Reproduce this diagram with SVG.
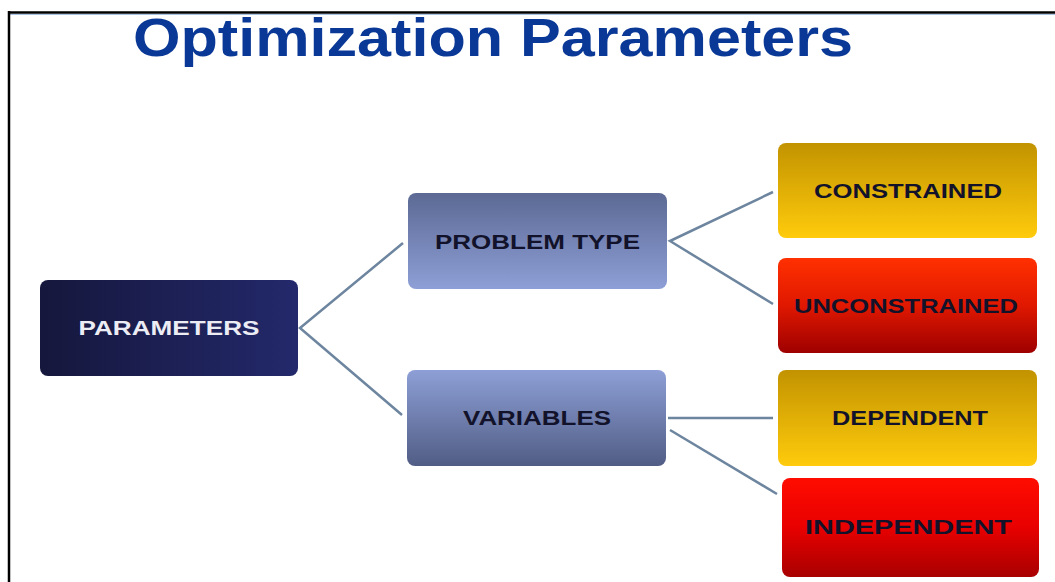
<svg xmlns="http://www.w3.org/2000/svg" width="1055" height="582" viewBox="0 0 1055 582">
  <defs>
    <linearGradient id="gNavy" x1="0" y1="0" x2="1" y2="0">
      <stop offset="0" stop-color="#15173c"/>
      <stop offset="1" stop-color="#23296b"/>
    </linearGradient>
    <linearGradient id="gBlueUp" x1="0" y1="0" x2="0" y2="1">
      <stop offset="0" stop-color="#5c6994"/>
      <stop offset="1" stop-color="#8d9fd6"/>
    </linearGradient>
    <linearGradient id="gBlueDown" x1="0" y1="0" x2="0" y2="1">
      <stop offset="0" stop-color="#8d9fd6"/>
      <stop offset="1" stop-color="#515d85"/>
    </linearGradient>
    <linearGradient id="gGold" x1="0" y1="0" x2="0" y2="1">
      <stop offset="0" stop-color="#c29300"/>
      <stop offset="1" stop-color="#ffcb0c"/>
    </linearGradient>
    <linearGradient id="gRed1" x1="0" y1="0" x2="0" y2="1">
      <stop offset="0" stop-color="#ff3000"/>
      <stop offset="0.5" stop-color="#e01800"/>
      <stop offset="1" stop-color="#9e0000"/>
    </linearGradient>
    <linearGradient id="gRed2" x1="0" y1="0" x2="0" y2="1">
      <stop offset="0" stop-color="#ff0c00"/>
      <stop offset="0.5" stop-color="#e80000"/>
      <stop offset="1" stop-color="#a80000"/>
    </linearGradient>
  </defs>
  <style>
    .box { stroke: none; }
    .lbl { font-family: "Liberation Sans", Arial, sans-serif; font-weight: bold; font-size: 20px; text-anchor: middle; dominant-baseline: central; fill: #12122a; }
    .lblw { fill: #ececf4; }
    .conn { stroke: #6d859f; stroke-width: 2.5; fill: none; }
    .title { font-family: "Liberation Sans", Arial, sans-serif; font-weight: bold; font-size: 53px; fill: #0a3896; }
  </style>
  <rect width="1055" height="582" fill="#ffffff"/>
  <line x1="8" y1="12.5" x2="1055" y2="12.5" stroke="#000" stroke-width="2.5"/>
  <line x1="10" y1="14.5" x2="1055" y2="14.5" stroke="#a8c4e4" stroke-width="1"/>
  <line x1="9" y1="11" x2="9" y2="582" stroke="#000" stroke-width="2.5"/>

  <text class="title" x="133" y="56" textLength="720" lengthAdjust="spacingAndGlyphs">Optimization Parameters</text>

  <g id="connectors">
    <polyline class="conn" points="403,243 300,328 402,415"/>
    <polyline class="conn" points="773,192 670,241 773,304"/>
    <line class="conn" x1="668" y1="418" x2="773" y2="418"/>
    <line class="conn" x1="670" y1="430" x2="777" y2="494"/>
  </g>

  <g id="node-parameters">
    <rect class="box" x="40" y="280" width="258" height="96" rx="8" fill="url(#gNavy)"/>
    <text class="lbl lblw" x="169" y="328" textLength="181" lengthAdjust="spacingAndGlyphs">PARAMETERS</text>
  </g>
  <g id="node-problem-type">
    <rect class="box" x="408" y="193" width="259" height="96" rx="8" fill="url(#gBlueUp)"/>
    <text class="lbl" x="537.5" y="241.5" textLength="205" lengthAdjust="spacingAndGlyphs">PROBLEM TYPE</text>
  </g>
  <g id="node-variables">
    <rect class="box" x="407" y="370" width="259" height="96" rx="8" fill="url(#gBlueDown)"/>
    <text class="lbl" x="537" y="418" textLength="148" lengthAdjust="spacingAndGlyphs">VARIABLES</text>
  </g>
  <g id="node-constrained">
    <rect class="box" x="778" y="143" width="259" height="95" rx="8" fill="url(#gGold)"/>
    <text class="lbl" x="908" y="190.5" textLength="188" lengthAdjust="spacingAndGlyphs">CONSTRAINED</text>
  </g>
  <g id="node-unconstrained">
    <rect class="box" x="778" y="258" width="259" height="95" rx="8" fill="url(#gRed1)"/>
    <text class="lbl" x="906" y="305.5" textLength="224" lengthAdjust="spacingAndGlyphs">UNCONSTRAINED</text>
  </g>
  <g id="node-dependent">
    <rect class="box" x="778" y="370" width="259" height="96" rx="8" fill="url(#gGold)"/>
    <text class="lbl" x="910" y="418" textLength="156" lengthAdjust="spacingAndGlyphs">DEPENDENT</text>
  </g>
  <g id="node-independent">
    <rect class="box" x="782" y="478" width="257" height="99" rx="8" fill="url(#gRed2)"/>
    <text class="lbl" x="908.5" y="527" textLength="207" lengthAdjust="spacingAndGlyphs">INDEPENDENT</text>
  </g>
</svg>
